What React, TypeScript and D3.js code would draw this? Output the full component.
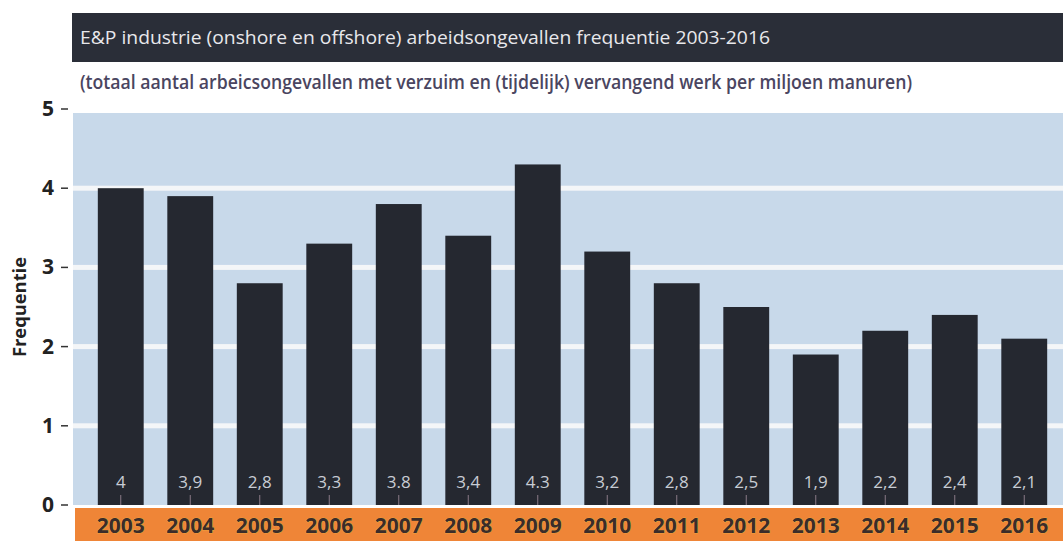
import React from "react";
import * as d3 from "d3";

const years = ["2003","2004","2005","2006","2007","2008","2009","2010","2011","2012","2013","2014","2015","2016"];
const values = [4, 3.9, 2.8, 3.3, 3.8, 3.4, 4.3, 3.2, 2.8, 2.5, 1.9, 2.2, 2.4, 2.1];
const valueLabels = ["4","3,9","2,8","3,3","3.8","3,4","4.3","3,2","2,8","2,5","1,9","2,2","2,4","2,1"];
const yTicks = [0, 1, 2, 3, 4, 5];
const title = "E&P industrie (onshore en offshore) arbeidsongevallen frequentie 2003-2016";
const subtitle = "(totaal aantal arbeicsongevallen met verzuim en (tijdelijk) vervangend werk per miljoen manuren)";
const yLabel = "Frequentie";

const W = 1063, H = 541;
const plotLeft = 73, plotRight = 1063;

export default function App() {
  const y = d3.scaleLinear().domain([0, 5]).range([505, 109]);
  const x = d3.scaleBand<string>().domain(years).range([86, 86 + 14 * 69.5]).paddingInner(0.34).paddingOuter(0.17);
  const font = "'Open Sans', 'Noto Sans', sans-serif";
  return (
    <svg width={W} height={H} style={{ position: "absolute", left: 0, top: 0, background: "#fff" }}>
      {/* title bar */}
      <rect x={72} y={13} width={W - 72} height={49} fill="#2a2e38" />
      <text x={80} y={44} fill="#e8e8ec" fontFamily={font} fontSize={19} textLength={690} lengthAdjust="spacingAndGlyphs">{title}</text>
      <text x={80} y={89} fill="#4a4560" fontFamily={font} fontWeight={600} fontSize={19} textLength={832} lengthAdjust="spacingAndGlyphs">{subtitle}</text>
      {/* plot background */}
      <rect x={plotLeft} y={y(5) + 4} width={plotRight - plotLeft} height={y(0) - y(5) - 4} fill="#c8d9ea" />
      {yTicks.filter(t => t > 0 && t < 5).map(t => (
        <rect key={"g" + t} x={plotLeft} y={y(t) - 2.5} width={plotRight - plotLeft} height={5} fill="#f4f6f8" />
      ))}
      {/* y axis ticks */}
      {yTicks.map(t => (
        <g key={"t" + t}>
          <text x={48} y={y(t) + 7} textAnchor="middle" fill="#222" fontFamily={font} fontWeight={700} fontSize={21}>{t}</text>
          <line x1={61} x2={68} y1={y(t)} y2={y(t)} stroke="#333" strokeWidth={1.5} />
        </g>
      ))}
      <text transform={`translate(26, 307) rotate(-90)`} textAnchor="middle" fill="#222" fontFamily={font} fontWeight={700} fontSize={18} textLength={100} lengthAdjust="spacingAndGlyphs">{yLabel}</text>
      {/* bars */}
      {values.map((v, i) => {
        const bx = x(years[i])!;
        const bw = x.bandwidth();
        return (
          <g key={"b" + i}>
            <rect x={bx} y={y(v)} width={bw} height={y(0) - y(v)} fill="#252830" />
            <text x={bx + bw / 2} y={488} textAnchor="middle" fill="#c8ccd4" fontFamily={font} fontSize={17}>{valueLabels[i]}</text>
            <line x1={bx + bw / 2} x2={bx + bw / 2} y1={495} y2={505} stroke="#8a7a86" strokeWidth={1} />
          </g>
        );
      })}
      {/* orange axis band */}
      <rect x={75} y={508} width={W - 75} height={H - 508} fill="#ef8537" />
      {years.map(yr => (
        <text key={"y" + yr} x={x(yr)! + x.bandwidth() / 2} y={533} textAnchor="middle" fill="#3b2c2a" fontFamily={font} fontWeight={700} fontSize={21}
          stroke="#e9c24a" strokeWidth={0.6} paintOrder="stroke">{yr}</text>
      ))}
    </svg>
  );
}
